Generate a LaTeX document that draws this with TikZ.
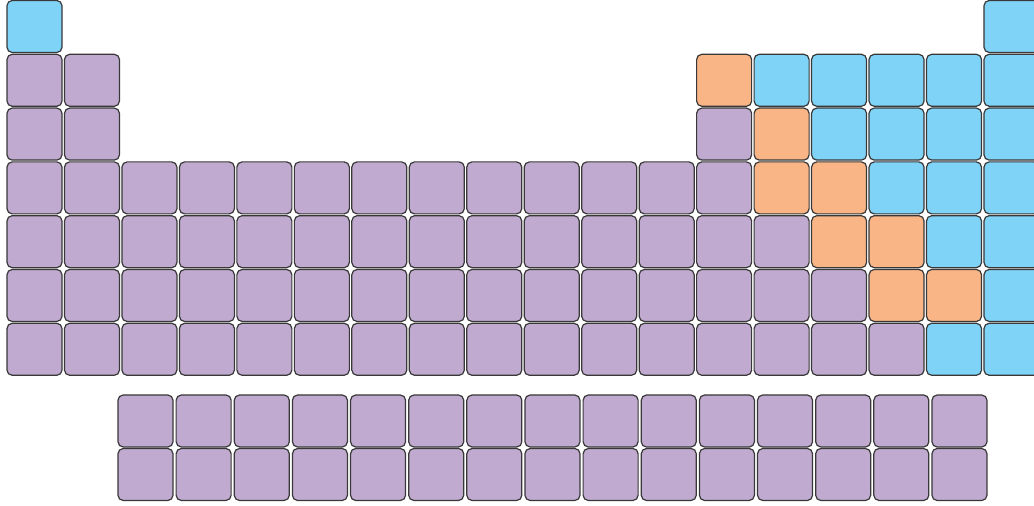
\documentclass[tikz,border=0pt]{standalone}
\usepackage{xcolor}
\usepackage{tikz}
\definecolor{cellm}{HTML}{C1AACF}
\definecolor{celln}{HTML}{7FD3F7}
\definecolor{cells}{HTML}{F9B586}
\tikzset{
  el/.style={rectangle,draw=black!78,line width=0.6pt,rounded corners=2.6pt,
    minimum width=27.5pt,minimum height=26pt,inner sep=0pt}
}
\begin{document}
\begin{tikzpicture}[x=0.5pt,y=-0.5pt]
\useasboundingbox (0,0) rectangle (1034,506);
\clip (0,0) rectangle (1034,506);
% main block: m metal, s semimetal, n nonmetal, o empty
\foreach \row [count=\r] in {
  {n,o,o,o,o,o,o,o,o,o,o,o,o,o,o,o,o,n},
  {m,m,o,o,o,o,o,o,o,o,o,o,s,n,n,n,n,n},
  {m,m,o,o,o,o,o,o,o,o,o,o,m,s,n,n,n,n},
  {m,m,m,m,m,m,m,m,m,m,m,m,m,s,s,n,n,n},
  {m,m,m,m,m,m,m,m,m,m,m,m,m,m,s,s,n,n},
  {m,m,m,m,m,m,m,m,m,m,m,m,m,m,m,s,s,n},
  {m,m,m,m,m,m,m,m,m,m,m,m,m,m,m,m,n,n}}
  \foreach \k [count=\c] in \row {
    \if\k o\else
      \node[el,fill=cell\k] (e\r-\c) at ({34.5+(\c-1)*57.47},{26.5+(\r-1)*53.8}) {};
    \fi
  };
% lanthanides and actinides
\foreach \r in {1,2}
  \foreach \c in {1,...,15}
    \node[el,fill=cellm] (f\r-\c) at ({145.5+(\c-1)*58.14},{421+(\r-1)*53.5}) {};
\end{tikzpicture}
\end{document}
